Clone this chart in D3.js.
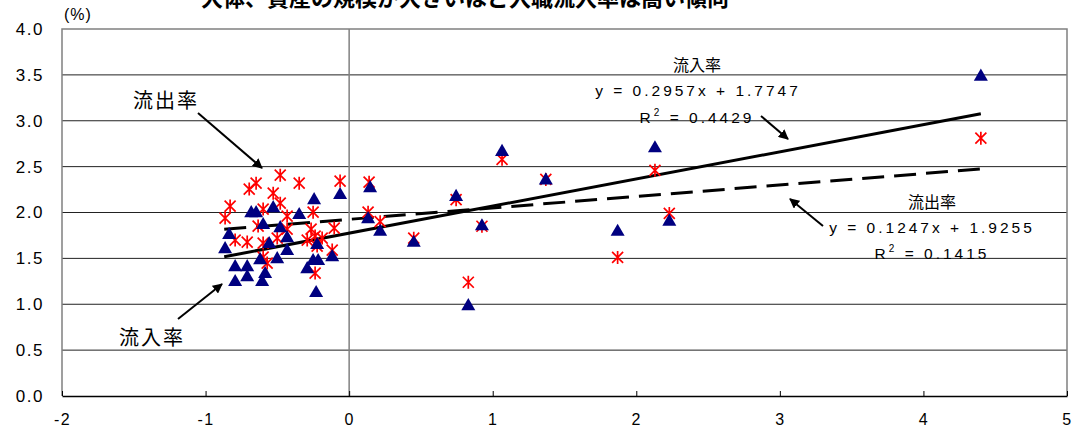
<!DOCTYPE html>
<html>
<head>
<meta charset="utf-8">
<script src="https://cdn.jsdelivr.net/npm/d3@7"></script>
<style>
  body { margin: 0; background: #fff; }
  svg { display: block; font-family: "Liberation Sans", Arial, sans-serif; }
  .tick text { font-size: 17px; letter-spacing: 1.5px; fill: #000; }
  .jp { font-family: "Noto Sans CJK JP", sans-serif; }
</style>
</head>
<body>
<div id="chart"></div>
<script>
// Define SVG area dimensions
var svgWidth = 1075;
var svgHeight = 430;

// plot area margins
var margin = { top: 29, right: 8, bottom: 34, left: 62 };
var width = svgWidth - margin.left - margin.right;
var height = svgHeight - margin.top - margin.bottom;

// tick values
var xTicks = [-2, -1, 0, 1, 2, 3, 4, 5];
var yTicks = [0, 0.5, 1, 1.5, 2, 2.5, 3, 3.5, 4];

// 流入率 (triangles)
var inflowX = [-0.244, -0.063, 0.146, -0.682, -0.648, -0.529, -0.348, 0.132, -0.836, -0.480,
  -0.432, -0.599, -0.864, -0.557, -0.432, -0.223, -0.118, -0.620, -0.501, -0.794,
  -0.710, -0.292, -0.251, -0.216, -0.585, -0.710, -0.794, -0.606, -0.230, 0.216,
  0.45, 0.745, 0.83, 0.925, 1.065, 1.37, 1.87, 2.13, 2.23, 4.40];
var inflowY = [2.135, 2.190, 2.266, 1.993, 1.993, 2.048, 1.972, 1.928, 1.754, 1.830,
  1.721, 1.863, 1.601, 1.656, 1.580, 1.645, 1.514, 1.481, 1.492, 1.405,
  1.405, 1.383, 1.471, 1.471, 1.329, 1.296, 1.242, 1.242, 1.122, 1.79,
  1.67, 2.17, 0.98, 1.85, 2.66, 2.35, 1.79, 2.70, 1.90, 3.48];

// 流出率 (asterisks)
var outflowX = [-0.648, -0.696, -0.480, -0.348, -0.063, 0.139, -0.529, -0.480, -0.829, -0.864,
  -0.599, -0.432, -0.634, -0.432, -0.251, -0.265, 0.132, -0.104, -0.794, -0.710,
  -0.599, -0.501, -0.292, -0.237, -0.223, -0.188, -0.118, -0.599, -0.571, -0.237,
  0.216, 0.45, 0.745, 0.83, 0.925, 1.065, 1.37, 1.87, 2.13, 2.23, 4.40];
var outflowY = [2.320, 2.255, 2.407, 2.320, 2.342, 2.331, 2.211, 2.102, 2.070, 1.939,
  2.037, 1.961, 1.852, 1.819, 2.004, 1.819, 2.004, 1.830, 1.699, 1.678,
  1.667, 1.721, 1.699, 1.743, 1.634, 1.721, 1.590, 1.514, 1.449, 1.340,
  1.90, 1.72, 2.14, 1.24, 1.85, 2.58, 2.36, 1.51, 2.46, 1.99, 2.81];

// trend lines: slope, intercept, x range
var inflowTrend = [0.2957, 1.7747];
var outflowTrend = [0.1247, 1.9255];
var trendRange = [-0.87, 4.40];

var svg = d3.select("#chart")
  .append("svg")
  .attr("width", svgWidth)
  .attr("height", svgHeight);

// title (cut off at the top of the picture, as in the source)
svg.append("text")
  .attr("class", "jp")
  .attr("x", 465)
  .attr("y", 6)
  .attr("text-anchor", "middle")
  .attr("font-size", "22px")
  .attr("font-weight", "bold")
  .text("大体、資産の規模が大きいほど入職流入率は高い傾向");

var chartGroup = svg.append("g")
  .attr("transform", `translate(${margin.left}, ${margin.top})`);

var xScale = d3.scaleLinear().domain([-2, 5]).range([0, width]);
var yScale = d3.scaleLinear().domain([0, 4]).range([height, 0]);

// horizontal gridlines
chartGroup.append("g")
  .selectAll("line")
  .data(yTicks.slice(1, -1))
  .enter()
  .append("line")
  .attr("x1", 0)
  .attr("x2", width)
  .attr("y1", d => yScale(d))
  .attr("y2", d => yScale(d))
  .attr("stroke", "#222")
  .attr("stroke-width", 1);

// plot border (top, left, right) and x = 0 line
chartGroup.append("path")
  .attr("d", `M0,${height}V0H${width}V${height}`)
  .attr("fill", "none")
  .attr("stroke", "#808080")
  .attr("stroke-width", 1.5);

chartGroup.append("line")
  .attr("x1", xScale(0)).attr("x2", xScale(0))
  .attr("y1", 0).attr("y2", height)
  .attr("stroke", "#808080")
  .attr("stroke-width", 1.5);

// y axis labels
var yAxis = d3.axisLeft(yScale)
  .tickValues(yTicks)
  .tickSize(0)
  .tickPadding(18)
  .tickFormat(d3.format(".1f"));
var yG = chartGroup.append("g").call(yAxis);
yG.select(".domain").remove();

// x axis with ticks pointing up
var xAxis = d3.axisBottom(xScale)
  .tickValues(xTicks)
  .tickSizeInner(-5)
  .tickSizeOuter(0)
  .tickPadding(18)
  .tickFormat(d => String(d));
var xG = chartGroup.append("g")
  .attr("transform", `translate(0, ${height})`)
  .call(xAxis);
xG.select(".domain").attr("stroke", "#000").attr("stroke-width", 1.5);
xG.selectAll(".tick line").attr("stroke", "#000");
xG.selectAll(".tick text").style("font-size", "16px");

// (%) label
svg.append("text")
  .attr("x", 64)
  .attr("y", 20)
  .attr("font-size", "16px")
  .attr("letter-spacing", "1px")
  .text("(%)");

// trend lines
var line = d3.line().x(d => xScale(d[0])).y(d => yScale(d[1]));
function trendPts(t) {
  return trendRange.map(x => [x, t[0] * x + t[1]]);
}
chartGroup.append("path")
  .attr("d", line(trendPts(inflowTrend)))
  .attr("stroke", "#000")
  .attr("stroke-width", 3)
  .attr("fill", "none");
chartGroup.append("path")
  .attr("d", line(trendPts(outflowTrend)))
  .attr("stroke", "#000")
  .attr("stroke-width", 3)
  .attr("stroke-dasharray", "22,10")
  .attr("fill", "none");

// outflow asterisks
var star = "M-5.5,-5.5L5.5,5.5M-5.5,5.5L5.5,-5.5M0,-6.5V6.5";
chartGroup.selectAll("path.out")
  .data(outflowX.map((x, i) => [x, outflowY[i]]))
  .enter()
  .append("path")
  .classed("out", true)
  .attr("d", star)
  .attr("transform", d => `translate(${xScale(d[0])}, ${yScale(d[1])})`)
  .attr("stroke", "#ff0000")
  .attr("stroke-width", 1.7)
  .attr("fill", "none");

// inflow triangles
var tri = d3.symbol().type(d3.symbolTriangle).size(85);
chartGroup.selectAll("path.in")
  .data(inflowX.map((x, i) => [x, inflowY[i]]))
  .enter()
  .append("path")
  .classed("in", true)
  .attr("d", tri)
  .attr("transform", d => `translate(${xScale(d[0])}, ${yScale(d[1])})`)
  .attr("fill", "#000080");

// annotations
svg.append("defs").append("marker")
  .attr("id", "arrow")
  .attr("viewBox", "0 0 10 10")
  .attr("refX", 9).attr("refY", 5)
  .attr("markerWidth", 5).attr("markerHeight", 5)
  .attr("orient", "auto")
  .append("path")
  .attr("d", "M0,0L10,5L0,10z")
  .attr("fill", "#000");

function arrow(x1, y1, x2, y2) {
  svg.append("line")
    .attr("x1", x1).attr("y1", y1).attr("x2", x2).attr("y2", y2)
    .attr("stroke", "#000")
    .attr("stroke-width", 2)
    .attr("marker-end", "url(#arrow)");
}

function label(x, y, txt, size, cls) {
  var t = svg.append("text")
    .attr("x", x).attr("y", y)
    .attr("text-anchor", "middle")
    .attr("font-size", size)
    .text(txt);
  if (cls) t.attr("class", cls);
  return t;
}

label(166, 108, "流出率", "20px", "jp").attr("letter-spacing", "2px");
arrow(198, 113, 262, 168);
label(152, 345, "流入率", "20px", "jp").attr("letter-spacing", "2px");
arrow(178, 319, 222, 284);

label(697, 71, "流入率", "16px", "jp");
label(698, 96, "y = 0.2957x + 1.7747", "15.5px").attr("letter-spacing", "3px");
var r1 = label(697, 123, "", "15.5px").attr("letter-spacing", "3px");
r1.append("tspan").text("R");
r1.append("tspan").attr("dy", -7).attr("font-size", "10px").text("2");
r1.append("tspan").attr("dy", 7).text(" = 0.4429");
arrow(761, 116, 788, 139);

label(932, 208, "流出率", "16px", "jp");
label(932, 233, "y = 0.1247x + 1.9255", "15.5px").attr("letter-spacing", "3px");
var r2 = label(932, 259, "", "15.5px").attr("letter-spacing", "3px");
r2.append("tspan").text("R");
r2.append("tspan").attr("dy", -7).attr("font-size", "10px").text("2");
r2.append("tspan").attr("dy", 7).text(" = 0.1415");
arrow(823, 226, 790, 199);
</script>
</body>
</html>
